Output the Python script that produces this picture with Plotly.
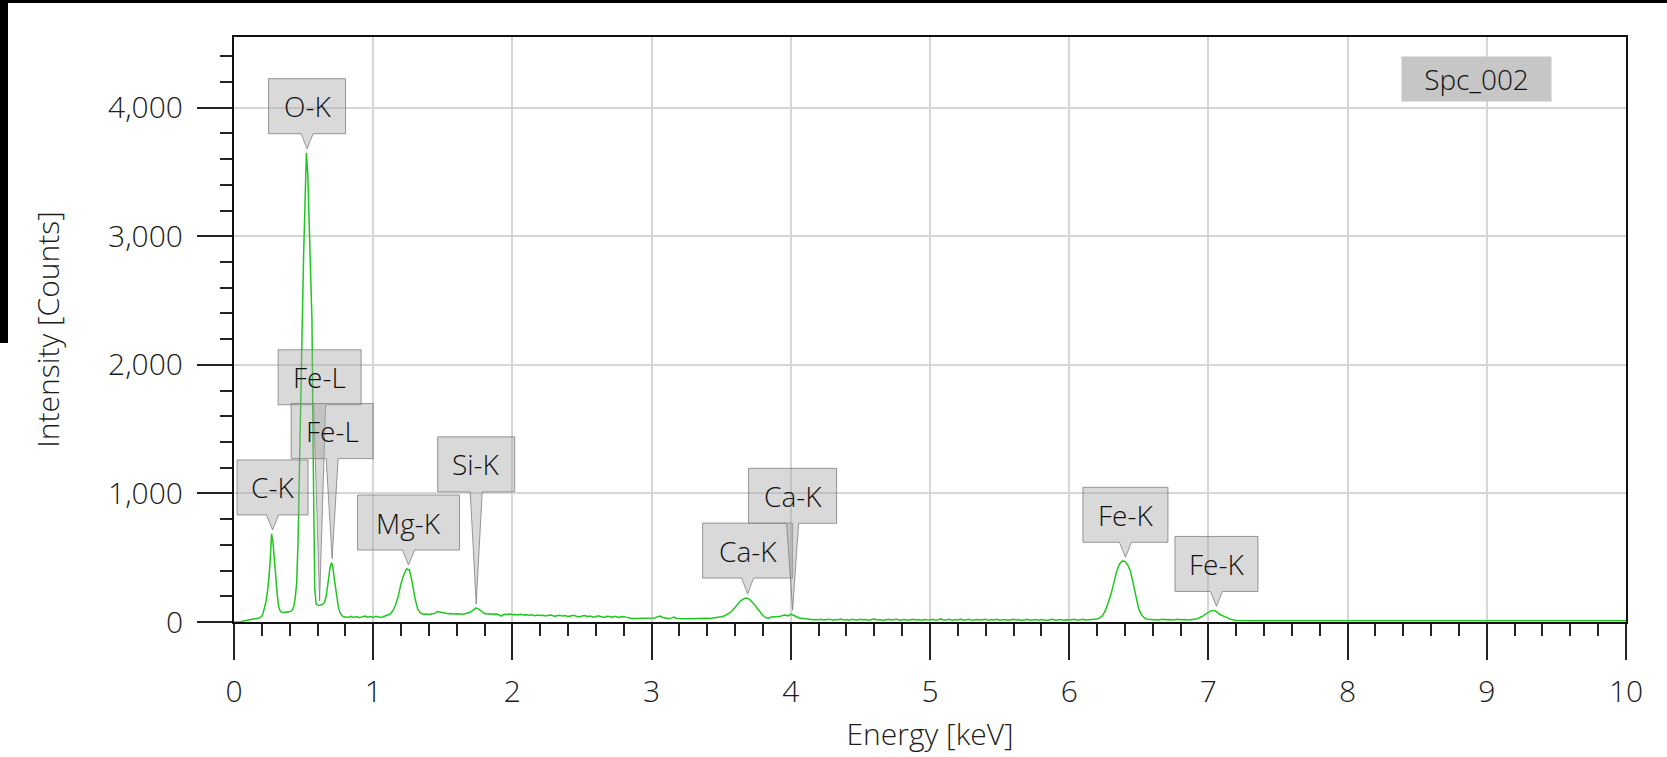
import numpy as np
import plotly.graph_objects as go

# ------------------------------------------------------------------ data
# EDS spectrum, fine channels 0.00-0.79 keV (0.01 keV step)
FINE_START_KEV = 0.00
FINE_STEP_KEV = 0.01
COUNTS_FINE = [
    0, 0, 0, 0, 0, 0, 6, 8, 9, 10,                          # 0.00
    12, 13, 15, 17, 18, 20, 23, 27, 31, 37,                 # 0.10
    46, 72, 108, 160, 235, 330, 480, 685, 620, 470,         # 0.20
    350, 220, 125, 90, 78, 76, 78, 74, 79, 77,              # 0.30
    81, 84, 94, 125, 190, 300, 620, 1100, 1750, 2300,       # 0.40
    2850, 3300, 3650, 3480, 3150, 2850, 2350, 1200, 260, 140,  # 0.50
    132, 128, 130, 134, 140, 152, 190, 260, 350, 425,       # 0.60
    462, 430, 340, 260, 170, 115, 75, 57, 46, 40,           # 0.70
]

# coarse channels 0.80-7.18 keV (0.02 keV step)
COARSE_START_KEV = 0.80
COARSE_STEP_KEV = 0.02
COUNTS_COARSE = [
    40, 36, 44, 35, 42, 33, 40, 46, 37, 43,                 # 0.80
    35, 44, 39, 36, 45, 50, 60, 85, 130, 200,               # 1.00
    300, 370, 412, 405, 310, 185, 100, 70, 60, 62,          # 1.20
    58, 64, 66, 82, 76, 70, 68, 64, 66, 62,                 # 1.40
    65, 63, 60, 64, 70, 78, 95, 110, 98, 80,                # 1.60
    66, 62, 64, 60, 62, 58, 46, 60, 58, 62,                 # 1.80
    56, 58, 55, 60, 54, 57, 52, 56, 48, 55,                 # 2.00
    50, 53, 47, 52, 55, 44, 50, 53, 46, 50,                 # 2.20
    42, 48, 52, 45, 40, 47, 50, 43, 46, 38,                 # 2.40
    44, 48, 40, 36, 45, 42, 38, 44, 35, 40,                 # 2.60
    43, 36, 30, 28, 27, 28, 26, 27, 28, 27,                 # 2.80
    30, 32, 40, 46, 35, 28, 27, 30, 38, 28,                 # 3.00
    26, 27, 25, 26, 27, 26, 28, 30, 29, 27,                 # 3.20
    30, 28, 30, 34, 36, 40, 46, 55, 70, 90,                 # 3.40
    115, 140, 165, 180, 186, 180, 160, 135, 105, 75,        # 3.60
    50, 35, 30, 38, 40, 39, 42, 50, 55, 48,                 # 3.80
    60, 52, 40, 32, 30, 26, 22, 20, 18, 20,                 # 4.00
    17, 21, 15, 19, 22, 14, 20, 18, 23, 16,                 # 4.20
    20, 13, 21, 18, 15, 22, 17, 20, 14, 19,                 # 4.40
    23, 16, 20, 12, 18, 21, 15, 19, 22, 14,                 # 4.60
    18, 20, 13, 17, 21, 16, 19, 12, 20, 17,                 # 4.80
    15, 21, 14, 18, 24, 13, 19, 22, 12, 20,                 # 5.00
    16, 23, 14, 19, 21, 13, 18, 20, 15, 17,                 # 5.20
    22, 12, 19, 16, 21, 14, 18, 20, 13, 17,                 # 5.40
    22, 15, 19, 12, 18, 21, 14, 17, 20, 13,                 # 5.60
    19, 16, 12, 18, 21, 14, 17, 20, 13, 18,                 # 5.80
    15, 20, 22, 14, 18, 21, 15, 19, 17, 22,                 # 6.00
    24, 32, 50, 90, 150, 215, 300, 390, 450, 474,           # 6.20
    472, 445, 395, 300, 180, 100, 55, 32, 22, 20,           # 6.40
    18, 21, 16, 19, 22, 17, 20, 15, 18, 21,                 # 6.60
    17, 20, 19, 16, 22, 22, 25, 32, 45, 62,                 # 6.80
    78, 88, 90, 80, 60, 48, 38, 30, 22, 14,                 # 7.00
]

# flat tail of the spectrum
TAIL_KEV = [7.20, 7.30, 8.00, 9.00, 10.00]
TAIL_COUNTS = [11, 10, 10, 10, 10]

# peak labels (element line, line energy keV)
PEAK_LABELS = ["C-K", "O-K", "Fe-L", "Fe-L", "Mg-K", "Si-K", "Ca-K", "Ca-K", "Fe-K", "Fe-K"]
PEAK_KEV = [0.277, 0.525, 0.615, 0.705, 1.254, 1.740, 3.690, 4.013, 6.404, 7.058]

SPECTRUM_NAME = "Spc_002"

X_TICKS = list(range(0, 11))
Y_TICKS = [0, 1000, 2000, 3000, 4000]
Y_TICK_TEXT = ["0", "1,000", "2,000", "3,000", "4,000"]

# ------------------------------------------------------------------ build series
energy_fine = [round(FINE_START_KEV + i * FINE_STEP_KEV, 4) for i in range(len(COUNTS_FINE))]
energy_coarse = [round(COARSE_START_KEV + i * COARSE_STEP_KEV, 4) for i in range(len(COUNTS_COARSE))]
energy = np.array(energy_fine + energy_coarse + TAIL_KEV)
counts = np.array(COUNTS_FINE + COUNTS_COARSE + TAIL_COUNTS, dtype=float)

# ------------------------------------------------------------------ layout / style
W, H = 1667, 757
ML, MR, MT, MB = 234, 41, 37, 135
PW = W - ML - MR
PH = H - MT - MB

FONT = "Open Sans"
TXT = "#1c1c1c"
GREEN = "#1ec81e"

# pixel lift from pointer tip to the label box bottom, and box widths
LABEL_LIFT_PX = [15, 15, 196, 100, 15, 112, 16, 87, 15, 15]
LABEL_BOX_W_PX = [71, 77, 83, 82, 102, 77, 90, 88, 85, 83]
BOX_H = 55
TIP_GAP = 4
HALF_BASE = 6

fig = go.Figure()
fig.add_trace(go.Scatter(
    x=energy, y=counts, mode="lines",
    line=dict(color=GREEN, width=1.5),
    hoverinfo="skip", showlegend=False,
))

shapes = []
annotations = []
for lbl, e, lift, bw in zip(PEAK_LABELS, PEAK_KEV, LABEL_LIFT_PX, LABEL_BOX_W_PX):
    win = (energy >= e - 0.02) & (energy <= e + 0.02)
    anchor = float(counts[win].max())
    t = TIP_GAP
    b = t + lift
    hw = bw / 2.0
    path = (f"M 0,{t} L {HALF_BASE},{b} L {hw},{b} L {hw},{b + BOX_H} "
            f"L {-hw},{b + BOX_H} L {-hw},{b} L {-HALF_BASE},{b} Z")
    shapes.append(dict(
        type="path", xref="x", yref="y", xsizemode="pixel", ysizemode="pixel",
        xanchor=e, yanchor=anchor, path=path,
        fillcolor="rgba(165,165,165,0.42)",
        line=dict(color="rgba(120,120,120,0.75)", width=1),
        layer="above",
    ))
    annotations.append(dict(
        x=e, y=anchor, xref="x", yref="y", text=lbl, showarrow=False,
        xanchor="center", yanchor="middle", yshift=b + BOX_H / 2.0,
        font=dict(family=FONT, size=28, color="#111111", weight=300),
    ))

# spectrum name tag
annotations.append(dict(
    x=(1476.7 - ML) / PW, y=(H - MB - 78.7) / PH, xref="paper", yref="paper",
    text=SPECTRUM_NAME, showarrow=False, xanchor="center", yanchor="middle",
    bgcolor="#c6c6c6", width=139, height=34, borderpad=5,
    font=dict(family=FONT, size=28, color="#111111", weight=300),
))

# black screenshot borders (top strip and left strip)
def px_x(p):
    return (p - ML) / PW

def px_y(p):
    return (H - MB - p) / PH

shapes.append(dict(type="rect", xref="paper", yref="paper",
                   x0=px_x(0), x1=px_x(W), y0=px_y(3), y1=px_y(0),
                   fillcolor="black", line=dict(width=0), layer="above"))
shapes.append(dict(type="rect", xref="paper", yref="paper",
                   x0=px_x(0), x1=px_x(8), y0=px_y(343), y1=px_y(0),
                   fillcolor="black", line=dict(width=0), layer="above"))

TICK_FONT = dict(family=FONT, size=30, color=TXT, weight=300)
TITLE_FONT = dict(family=FONT, size=30, color=TXT, weight=300)

fig.update_layout(
    width=W, height=H, template="none",
    margin=dict(l=ML, r=MR, t=MT, b=MB, pad=0),
    paper_bgcolor="white", plot_bgcolor="white",
    font=dict(family=FONT, color=TXT),
    shapes=shapes, annotations=annotations, showlegend=False,
    xaxis=dict(
        range=[0, 10], tickvals=X_TICKS, ticktext=[str(v) for v in X_TICKS],
        ticks="outside", ticklen=36, tickwidth=1.5, tickcolor="#222",
        minor=dict(dtick=0.2, tick0=0, ticks="outside", ticklen=12, tickwidth=1.5,
                   tickcolor="#222", showgrid=False),
        showline=True, linecolor="#111", linewidth=2, mirror=True,
        showgrid=True, gridcolor="#d6d6d6", gridwidth=1.5, zeroline=False,
        tickfont=TICK_FONT, ticklabelstandoff=6, automargin=False,
        title=dict(text="Energy [keV]", font=TITLE_FONT, standoff=14),
    ),
    yaxis=dict(
        range=[0, 4550], tickvals=Y_TICKS, ticktext=Y_TICK_TEXT,
        ticks="outside", ticklen=35, tickwidth=1.5, tickcolor="#222",
        minor=dict(dtick=200, tick0=0, ticks="outside", ticklen=12, tickwidth=1.5,
                   tickcolor="#222", showgrid=False),
        showline=True, linecolor="#111", linewidth=2, mirror=True,
        showgrid=True, gridcolor="#d6d6d6", gridwidth=1.5, zeroline=False,
        tickfont=TICK_FONT, ticklabelstandoff=8, automargin=False,
        title=dict(text="Intensity [Counts]", font=TITLE_FONT, standoff=40),
    ),
)

fig.write_html(
    "out.html",
    config={"displayModeBar": False},
    post_script="document.body.style.margin='0px';document.body.style.overflow='hidden';",
)
